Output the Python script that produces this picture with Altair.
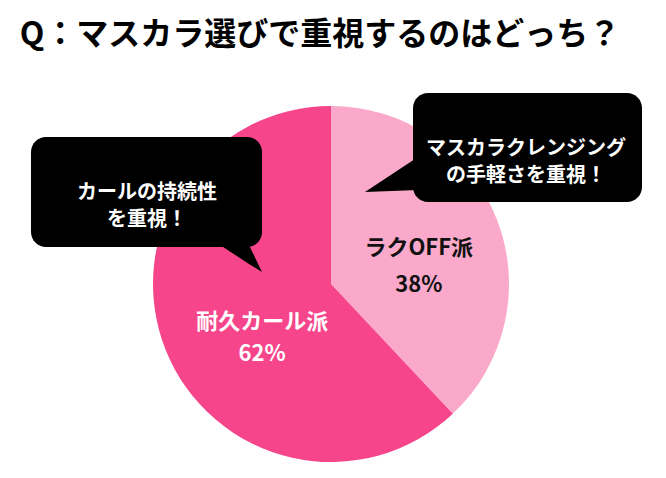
import altair as alt
import pandas as pd

FONT = "Noto Sans CJK JP"

# ---- data ----
categories = ["ラクOFF派", "耐久カール派"]
values = [38, 62]
slice_colors = ["#FAA9CB", "#F6458B"]

title_text = ["Q：マスカラ選びで重視するのはどっち？"]

bubble_ids = ["left", "right"]
bubble_texts = ["カールの持続性\nを重視！", "マスカラクレンジング\nの手軽さを重視！"]
# bubble boxes (page pixel layout)
bubble_x1 = [31, 413]
bubble_x2 = [262, 642]
bubble_y1 = [137, 93]
bubble_y2 = [247, 202]
bubble_tx = [147, 526]
bubble_ty = [193, 149]

# tail polygons
tail_id = ["left", "left", "left", "right", "right"]
tail_x = [220, 249, 262, 365, 418]
tail_y = [245, 245, 272, 192, 157]
tail_y2 = [245, 264, 272, 192, 190]

# ---- tables ----
pie_df = pd.DataFrame({
    "cat": categories,
    "value": values,
    "order": list(range(len(categories))),
    "lab": [f"{c}\n{v}%" for c, v in zip(categories, values)],
})
bubble_df = pd.DataFrame({
    "id": bubble_ids, "text": bubble_texts,
    "x1": bubble_x1, "x2": bubble_x2, "y1": bubble_y1, "y2": bubble_y2,
    "tx": bubble_tx, "ty": bubble_ty,
})
tail_df = pd.DataFrame({"id": tail_id, "x": tail_x, "y": tail_y, "y2": tail_y2})
title_df = pd.DataFrame({"text": title_text, "x": [320], "y": [35]})

W, H = 650, 462
xs = alt.Scale(domain=[8, 8 + W], nice=False, zero=False)
ys = alt.Scale(domain=[8 + H, 8], nice=False, zero=False)

CX, CY, R = 331 - 8, 284 - 8, 178

theta = alt.Theta("value:Q", stack=True)
order = alt.Order("order:Q")

pie = alt.Chart(pie_df).mark_arc(outerRadius=R).encode(
    theta=theta,
    order=order,
    color=alt.Color("cat:N", scale=alt.Scale(domain=categories, range=slice_colors), legend=None),
    x=alt.value(CX), y=alt.value(CY),
)

lab_light = alt.Chart(pie_df).transform_calculate(
    t="datum.cat == 'ラクOFF派' ? datum.lab : ''"
).mark_text(
    radius=89, dx=5, dy=-3, fontSize=22, fontWeight="bold", font=FONT,
    lineHeight=37, lineBreak="\n", color="#111111",
).encode(theta=theta, order=order, text="t:N", x=alt.value(CX), y=alt.value(CY))

lab_dark = alt.Chart(pie_df).transform_calculate(
    t="datum.cat == '耐久カール派' ? datum.lab : ''"
).mark_text(
    radius=88, dx=13, dy=6, fontSize=22, fontWeight="bold", font=FONT,
    lineHeight=32, lineBreak="\n", color="#FFFFFF",
).encode(theta=theta, order=order, text="t:N", x=alt.value(CX), y=alt.value(CY))

tails = alt.Chart(tail_df).mark_area(color="black", interpolate="linear").encode(
    x=alt.X("x:Q", scale=xs, axis=None),
    y=alt.Y("y:Q", scale=ys, axis=None, stack=False),
    y2="y2:Q",
    detail="id:N",
)

boxes = alt.Chart(bubble_df).mark_rect(color="black", cornerRadius=15).encode(
    x=alt.X("x1:Q", scale=xs, axis=None), x2="x2:Q",
    y=alt.Y("y1:Q", scale=ys, axis=None), y2="y2:Q",
)

btext = alt.Chart(bubble_df).mark_text(
    fontSize=20, fontWeight="bold", font=FONT, color="white",
    lineHeight=27, lineBreak="\n", baseline="middle", align="center",
).encode(
    x=alt.X("tx:Q", scale=xs, axis=None),
    y=alt.Y("ty:Q", scale=ys, axis=None),
    text="text:N",
)

title = alt.Chart(title_df).mark_text(
    fontSize=32, fontWeight="bold", font=FONT, color="black", baseline="middle",
).encode(
    x=alt.X("x:Q", scale=xs, axis=None),
    y=alt.Y("y:Q", scale=ys, axis=None),
    text="text:N",
)

chart = alt.layer(pie, lab_light, lab_dark, tails, boxes, btext, title).properties(
    width=W, height=H, padding=0, autosize="none", background="white",
).configure_view(stroke=None)

chart.save("out.html", embed_options={"renderer": "svg", "actions": False})
